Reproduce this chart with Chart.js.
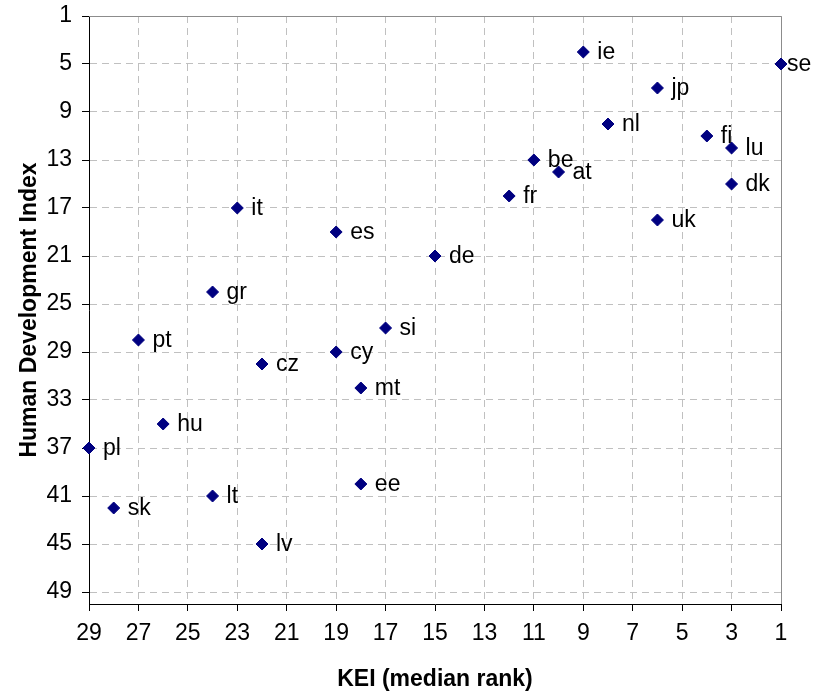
<!DOCTYPE html>
<html>
<head>
<meta charset="utf-8">
<script src="https://cdn.jsdelivr.net/npm/chart.js@4/dist/chart.umd.min.js"></script>
<style>
  body { margin: 0; background: #fff; }
  #wrap { width: 814px; height: 694px; }
</style>
</head>
<body>
<div id="wrap"><canvas id="kei" width="814" height="694"></canvas></div>
<script>
const countries = ['ie', 'se', 'jp', 'nl', 'fi', 'lu', 'be', 'at', 'dk', 'fr', 'uk', 'it', 'es', 'de',
                   'gr', 'si', 'pt', 'cy', 'cz', 'mt', 'hu', 'pl', 'ee', 'lt', 'sk', 'lv'];
const keiRank = [9, 1, 6, 8, 4, 3, 11, 10, 3, 12, 6, 23, 19, 15, 24, 17, 27, 19, 22, 18, 26, 29, 18, 24, 28, 22];
const hdiRank = [4, 5, 7, 10, 11, 12, 13, 14, 15, 16, 18, 17, 19, 21, 24, 27, 28, 29, 30, 32, 35, 37, 40, 41, 42, 45];
const xTicks = [29, 27, 25, 23, 21, 19, 17, 15, 13, 11, 9, 7, 5, 3, 1];
const yTicks = [1, 5, 9, 13, 17, 21, 25, 29, 33, 37, 41, 45, 49];

const FONT = 'Arial, "Liberation Sans", sans-serif';

// country codes next to each marker
const pointLabels = {
    id: 'pointLabels',
    afterDatasetsDraw(chart, args, opts) {
        const ctx = chart.ctx;
        const meta = chart.getDatasetMeta(0);
        ctx.save();
        ctx.font = '23px ' + FONT;
        ctx.fillStyle = '#000';
        ctx.textAlign = 'left';
        ctx.textBaseline = 'middle';
        meta.data.forEach((pt, i) => {
            const name = countries[i];
            const dx = opts.offsets[name] !== undefined ? opts.offsets[name] : opts.dx;
            ctx.fillText(name, pt.x + dx, pt.y + 1);
        });
        ctx.restore();
    }
};

// grey frame on top and right of plot area
const plotFrame = {
    id: 'plotFrame',
    beforeDatasetsDraw(chart) {
        const {ctx, chartArea: a} = chart;
        ctx.save();
        ctx.strokeStyle = '#8c8c8c';
        ctx.lineWidth = 1;
        ctx.beginPath();
        ctx.moveTo(a.left, a.top + 0.5);
        ctx.lineTo(a.right + 0.5, a.top + 0.5);
        ctx.lineTo(a.right + 0.5, a.bottom);
        ctx.stroke();
        ctx.restore();
    }
};

const ctxKei = document.getElementById('kei').getContext('2d');
const keiChart = new Chart(ctxKei, {
    type: 'scatter',
    data: {
        datasets: [{
            label: 'KEI vs HDI',
            data: countries.map((c, i) => ({x: keiRank[i], y: hdiRank[i]})),
            pointStyle: 'rectRot',
            pointRadius: 6,
            pointHoverRadius: 6,
            backgroundColor: '#000080',
            borderColor: '#000080',
            borderWidth: 1,
            clip: false
        }]
    },
    options: {
        responsive: false,
        animation: false,
        events: [],
        layout: { padding: { top: 16, right: 33, left: 0, bottom: 0 } },
        plugins: {
            legend: { display: false },
            tooltip: { enabled: false },
            pointLabels: { dx: 14, offsets: { se: 6 } }
        },
        scales: {
            x: {
                type: 'linear',
                min: 1,
                max: 29,
                reverse: true,
                afterBuildTicks: (scale) => { scale.ticks = xTicks.map(v => ({value: v})); },
                afterFit: (scale) => {
                    scale.height = 90;
                    scale.paddingLeft = 0;
                    scale.paddingRight = 0;
                },
                grid: {
                    color: '#c0c0c0',
                    lineWidth: 1,
                    tickColor: '#000',
                    tickLength: 7,
                    tickWidth: 1
                },
                border: { display: true, color: '#000', width: 1, dash: [7, 5] },
                ticks: {
                    color: '#000',
                    font: { family: FONT, size: 23 },
                    padding: 9,
                    maxRotation: 0,
                    autoSkip: false
                },
                title: {
                    display: true,
                    text: 'KEI (median rank)',
                    color: '#000',
                    font: { family: FONT, size: 23, weight: 'bold' },
                    padding: { top: 0, bottom: 1 }
                }
            },
            y: {
                type: 'linear',
                min: 1,
                max: 50,
                reverse: true,
                afterBuildTicks: (scale) => { scale.ticks = yTicks.map(v => ({value: v})); },
                afterFit: (scale) => {
                    scale.width = 89;
                    scale.paddingTop = 0;
                    scale.paddingBottom = 0;
                },
                grid: {
                    color: '#c0c0c0',
                    lineWidth: 1,
                    tickColor: '#000',
                    tickLength: 7,
                    tickWidth: 1
                },
                border: { display: true, color: '#000', width: 1, dash: [7, 5] },
                ticks: {
                    color: '#000',
                    font: { family: FONT, size: 23 },
                    padding: 10,
                    autoSkip: false
                },
                title: {
                    display: true,
                    text: 'Human Development Index',
                    color: '#000',
                    font: { family: FONT, size: 23, weight: 'bold' },
                    padding: { top: 16, bottom: 0 }
                }
            }
        }
    },
    plugins: [pointLabels, plotFrame]
});
</script>
</body>
</html>
